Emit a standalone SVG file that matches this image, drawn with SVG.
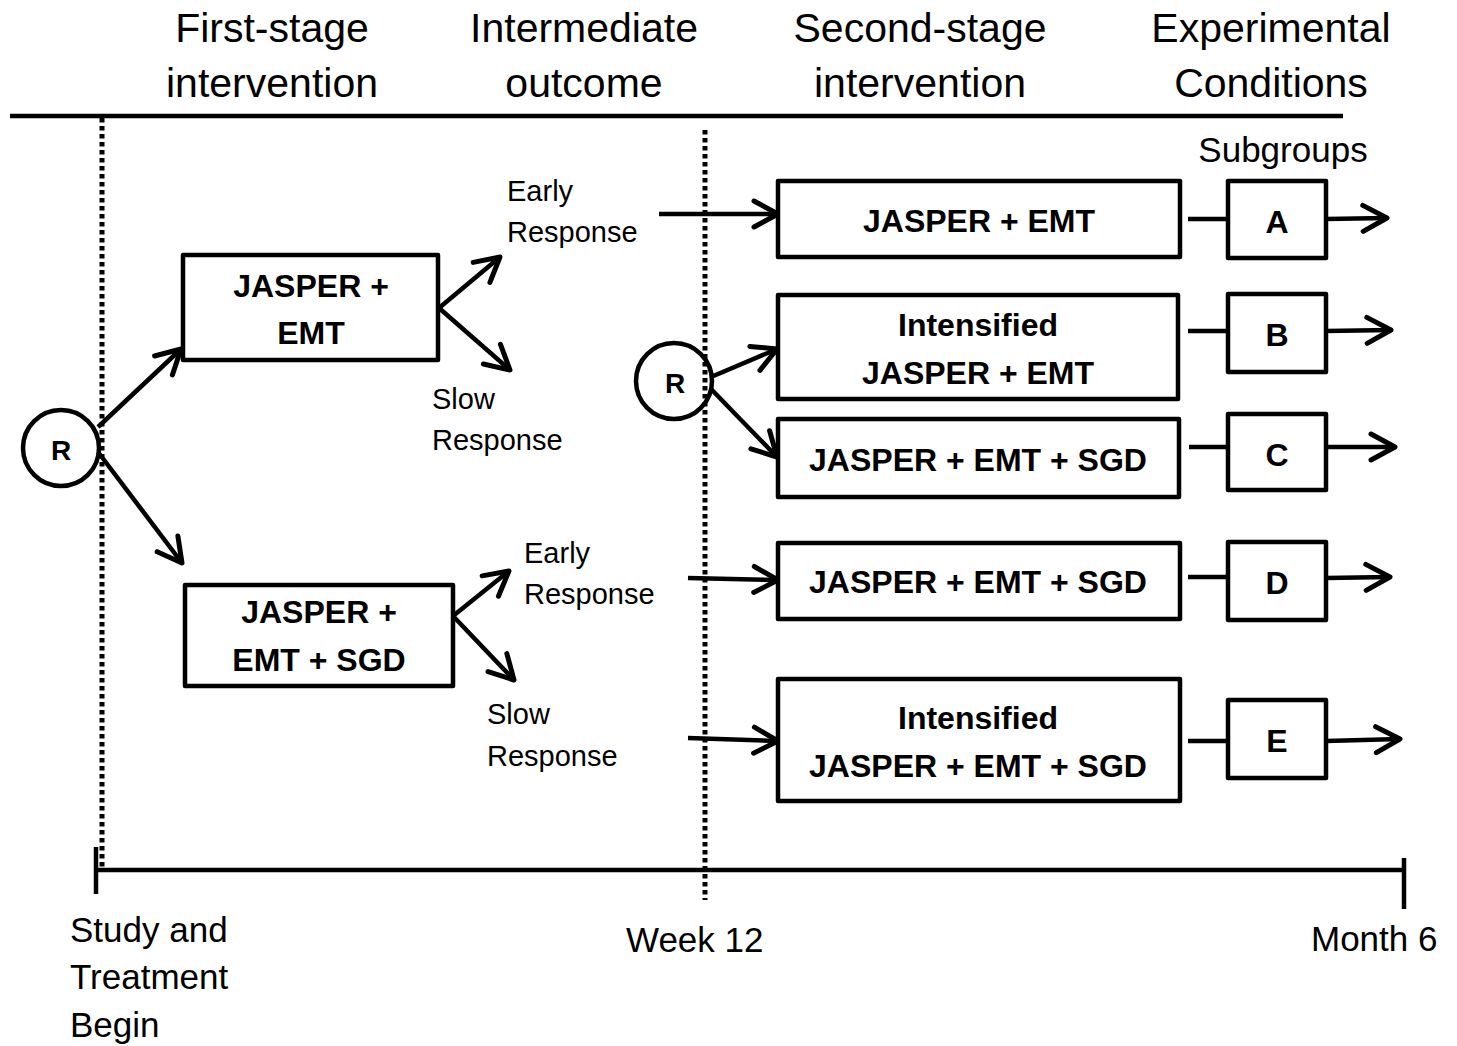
<svg xmlns="http://www.w3.org/2000/svg" width="1457" height="1046" viewBox="0 0 1457 1046">
  <style>
    .hdr { font-family: "Liberation Sans", Arial, sans-serif; font-size: 41px; fill: #000; text-anchor: middle; }
    .lbl { font-family: "Liberation Sans", Arial, sans-serif; font-size: 29px; fill: #000; }
    .tl { font-family: "Liberation Sans", Arial, sans-serif; font-size: 35px; fill: #000; }
    .bx { font-family: "Liberation Sans", Arial, sans-serif; font-size: 32px; font-weight: bold; fill: #000; text-anchor: middle; }
    .rt { font-family: "Liberation Sans", Arial, sans-serif; font-size: 28px; font-weight: bold; fill: #000; text-anchor: middle; }
    .box { fill: #fff; stroke: #000; stroke-width: 4.5; stroke-linejoin: round; }
    .circ { fill: none; stroke: #000; stroke-width: 4.5; }
    .ln { stroke: #000; stroke-width: 4.5; fill: none; }
    .arr { stroke: #000; stroke-width: 4.5; fill: none; marker-end: url(#ah); }
    .dot { stroke: #000; stroke-width: 5; stroke-dasharray: 4.5 3.5; fill: none; }
  </style>
  <defs>
    <marker id="ah" viewBox="-32 -20 36 40" refX="0" refY="0" markerWidth="36" markerHeight="40" markerUnits="userSpaceOnUse" orient="auto">
      <path d="M-24,-13 L0,0 L-24,13" fill="none" stroke="#000" stroke-width="5" stroke-linecap="round" stroke-linejoin="round"/>
    </marker>
  </defs>
  <rect width="1457" height="1046" fill="#fff"/>

  <!-- header -->
  <g id="header">
    <text class="hdr" x="272" y="42">First-stage</text>
    <text class="hdr" x="272" y="97">intervention</text>
    <text class="hdr" x="584" y="42">Intermediate</text>
    <text class="hdr" x="584" y="97">outcome</text>
    <text class="hdr" x="920" y="42">Second-stage</text>
    <text class="hdr" x="920" y="97">intervention</text>
    <text class="hdr" x="1271" y="42">Experimental</text>
    <text class="hdr" x="1271" y="97">Conditions</text>
    <line class="ln" x1="10" y1="116" x2="1343" y2="116"/>
    <text class="hdr" x="1283" y="162" style="font-size:35px">Subgroups</text>
  </g>

  <!-- timeline -->
  <g id="timeline">
    <line class="ln" x1="96" y1="870" x2="1404" y2="870"/>
    <line class="ln" x1="96" y1="847" x2="96" y2="894"/>
    <line class="ln" x1="1404" y1="858" x2="1404" y2="909"/>
    <text class="tl" x="70" y="942">Study and</text>
    <text class="tl" x="70" y="989">Treatment</text>
    <text class="tl" x="70" y="1037">Begin</text>
    <text class="tl" x="626" y="952">Week 12</text>
    <text class="tl" x="1311" y="951">Month 6</text>
  </g>

  <!-- connectors -->
  <g id="connectors">
    <line class="arr" x1="98" y1="427" x2="181" y2="349"/>
    <line class="arr" x1="98" y1="452" x2="182" y2="563"/>
    <line class="arr" x1="439" y1="308" x2="500" y2="257"/>
    <line class="arr" x1="439" y1="308" x2="510" y2="370"/>
    <line class="arr" x1="453" y1="616" x2="509" y2="571"/>
    <line class="arr" x1="453" y1="616" x2="514" y2="680"/>
    <line class="arr" x1="659" y1="214" x2="778" y2="214"/>
    <line class="arr" x1="711" y1="377" x2="777" y2="349"/>
    <line class="arr" x1="711" y1="389" x2="777" y2="457"/>
    <line class="arr" x1="688" y1="578" x2="778" y2="580"/>
    <line class="arr" x1="688" y1="738" x2="778" y2="741"/>
    <line class="ln" x1="1188" y1="219" x2="1228" y2="219"/>
    <line class="ln" x1="1188" y1="331" x2="1228" y2="331"/>
    <line class="ln" x1="1189" y1="447" x2="1228" y2="447"/>
    <line class="ln" x1="1188" y1="577" x2="1228" y2="577"/>
    <line class="ln" x1="1188" y1="741" x2="1228" y2="741"/>
    <line class="arr" x1="1326" y1="219" x2="1387" y2="218"/>
    <line class="arr" x1="1326" y1="331" x2="1391" y2="330"/>
    <line class="arr" x1="1326" y1="447" x2="1395" y2="447"/>
    <line class="arr" x1="1326" y1="578" x2="1390" y2="577"/>
    <line class="arr" x1="1326" y1="741" x2="1400" y2="739"/>
  </g>

  <!-- response labels -->
  <g id="labels">
    <text class="lbl" x="507" y="201">Early</text>
    <text class="lbl" x="507" y="242">Response</text>
    <text class="lbl" x="432" y="409">Slow</text>
    <text class="lbl" x="432" y="450">Response</text>
    <text class="lbl" x="524" y="563">Early</text>
    <text class="lbl" x="524" y="604">Response</text>
    <text class="lbl" x="487" y="724">Slow</text>
    <text class="lbl" x="487" y="766">Response</text>
  </g>

  <g id="R1">
    <circle class="circ" cx="61" cy="448" r="38"/>
    <text class="rt" x="61" y="460">R</text>
  </g>
  <g id="R2">
    <circle class="circ" cx="674" cy="381" r="38"/>
    <text class="rt" x="675" y="393">R</text>
  </g>

  <!-- dotted time markers -->
  <g id="markers">
    <line class="dot" x1="102" y1="118" x2="102" y2="868"/>
    <line class="dot" x1="705" y1="130" x2="705" y2="900"/>
  </g>

  <g id="stage1-jasper-emt">
    <rect class="box" x="183" y="255" width="255" height="105"/>
    <text class="bx" x="311" y="297">JASPER +</text>
    <text class="bx" x="311" y="344">EMT</text>
  </g>
  <g id="stage1-jasper-emt-sgd">
    <rect class="box" x="185" y="585" width="268" height="101"/>
    <text class="bx" x="319" y="623">JASPER +</text>
    <text class="bx" x="319" y="671">EMT + SGD</text>
  </g>

  <g id="stage2-a">
    <rect class="box" x="778" y="181" width="402" height="76"/>
    <text class="bx" x="979" y="232">JASPER + EMT</text>
  </g>
  <g id="stage2-b">
    <rect class="box" x="778" y="295" width="400" height="104"/>
    <text class="bx" x="978" y="336">Intensified</text>
    <text class="bx" x="978" y="384">JASPER + EMT</text>
  </g>
  <g id="stage2-c">
    <rect class="box" x="778" y="419" width="401" height="78"/>
    <text class="bx" x="978" y="471">JASPER + EMT + SGD</text>
  </g>
  <g id="stage2-d">
    <rect class="box" x="778" y="543" width="402" height="76"/>
    <text class="bx" x="978" y="593">JASPER + EMT + SGD</text>
  </g>
  <g id="stage2-e">
    <rect class="box" x="778" y="679" width="402" height="122"/>
    <text class="bx" x="978" y="729">Intensified</text>
    <text class="bx" x="978" y="777">JASPER + EMT + SGD</text>
  </g>

  <g id="sub-A">
    <rect class="box" x="1228" y="181" width="98" height="77"/>
    <text class="bx" x="1277" y="233">A</text>
  </g>
  <g id="sub-B">
    <rect class="box" x="1228" y="294" width="98" height="78"/>
    <text class="bx" x="1277" y="346">B</text>
  </g>
  <g id="sub-C">
    <rect class="box" x="1228" y="414" width="98" height="76"/>
    <text class="bx" x="1277" y="466">C</text>
  </g>
  <g id="sub-D">
    <rect class="box" x="1228" y="542" width="98" height="78"/>
    <text class="bx" x="1277" y="594">D</text>
  </g>
  <g id="sub-E">
    <rect class="box" x="1228" y="700" width="98" height="78"/>
    <text class="bx" x="1277" y="752">E</text>
  </g>
</svg>
